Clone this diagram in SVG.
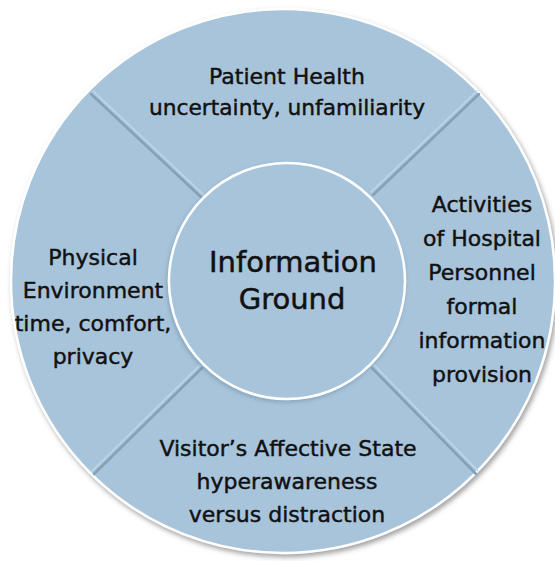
<svg xmlns="http://www.w3.org/2000/svg" width="555" height="561" viewBox="0 0 555 561">
  <defs>
    <filter id="shadow" x="-10%" y="-10%" width="120%" height="120%">
      <feDropShadow dx="2" dy="3" stdDeviation="2.5" flood-color="#555" flood-opacity="0.55"/>
    </filter>
    <filter id="innerShadow" x="-10%" y="-10%" width="120%" height="120%">
      <feDropShadow dx="-1" dy="2" stdDeviation="2" flood-color="#5f7a90" flood-opacity="0.45"/>
    </filter>
    <filter id="soft" x="-5%" y="-5%" width="110%" height="110%">
      <feGaussianBlur stdDeviation="0.7"/>
    </filter>
  </defs>
  <style>
    .disc { fill: #a7c4db; stroke: #ffffff; stroke-width: 2.5; }
    .label { font-family: "DejaVu Sans", "Liberation Sans", sans-serif; font-size: 22px; fill: #111111; stroke: #111111; stroke-width: 0.45; text-anchor: middle; }
    .center { font-size: 29px; stroke-width: 0.5; }
    .groove { stroke: #86a0b5; stroke-width: 2.5; stroke-linecap: round; }
    .hilite { stroke: #c2d6e6; stroke-width: 1.5; stroke-linecap: round; }
  </style>

  <rect width="555" height="561" fill="#ffffff"/>

  <g id="outer-ring">
    <circle class="disc" cx="283" cy="281" r="272" filter="url(#shadow)"/>
  </g>

  <g id="connectors" filter="url(#soft)">
    <line class="groove" x1="91" y1="94" x2="202" y2="198"/>
    <line class="hilite" x1="93" y1="91" x2="204" y2="195"/>
    <line class="groove" x1="479" y1="94" x2="373" y2="195"/>
    <line class="hilite" x1="477" y1="91" x2="371" y2="192"/>
    <line class="groove" x1="202" y1="368" x2="94" y2="474"/>
    <line class="hilite" x1="200" y1="365" x2="92" y2="471"/>
    <line class="groove" x1="372" y1="368" x2="476" y2="474"/>
    <line class="hilite" x1="374" y1="365" x2="478" y2="471"/>
  </g>

  <g id="patient-health">
    <text class="label" x="287" y="84">Patient Health</text>
    <text class="label" x="287" y="115" textLength="276" lengthAdjust="spacingAndGlyphs">uncertainty, unfamiliarity</text>
  </g>

  <g id="hospital-personnel">
    <text class="label" x="482" y="212">Activities</text>
    <text class="label" x="482" y="246">of Hospital</text>
    <text class="label" x="482" y="280">Personnel</text>
    <text class="label" x="482" y="314">formal</text>
    <text class="label" x="482" y="348">information</text>
    <text class="label" x="482" y="382">provision</text>
  </g>

  <g id="physical-environment">
    <text class="label" x="93" y="265">Physical</text>
    <text class="label" x="93" y="298">Environment</text>
    <text class="label" x="93" y="331">time, comfort,</text>
    <text class="label" x="93" y="364">privacy</text>
  </g>

  <g id="affective-state">
    <text class="label" x="288" y="456">Visitor’s Affective State</text>
    <text class="label" x="287" y="489">hyperawareness</text>
    <text class="label" x="287" y="522">versus distraction</text>
  </g>

  <g id="information-ground">
    <circle class="disc" cx="287" cy="281" r="118" filter="url(#innerShadow)"/>
    <text class="label center" x="293" y="272">Information</text>
    <text class="label center" x="292" y="309">Ground</text>
  </g>
</svg>
